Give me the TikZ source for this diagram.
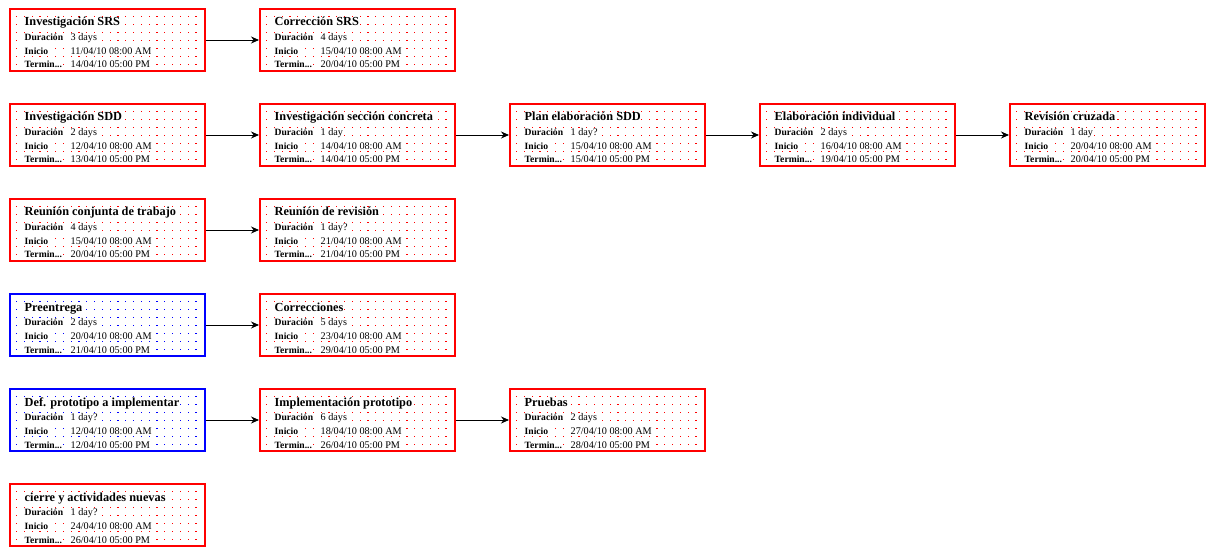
\documentclass[tikz,border=0pt]{standalone}
\usepackage{fontspec}
\setmainfont{Liberation Serif}
\usetikzlibrary{arrows.meta}

% one task box: name, left, top, colour, title, duration, start, end
\newcommand\tarea[8]{%
  \node[caja,draw=#4] (#1) at (#2+98.5,#3+32) {};
  \foreach \i in {0,...,23}
    \foreach \j in {0,...,6}
      \fill[#4] (#2+6.9+7.8*\i,#3+7.9+8*\j) rectangle ++(1.2,1.2);
  \node[titulo] (#1-t) at (#2+15,#3+18) {#5};
  \node[etiqueta] (#1-dl) at (#2+15,#3+32.5) {Duración};
  \node[valor] (#1-d) at (#2+61,#3+32.5) {#6};
  \node[etiqueta] (#1-il) at (#2+15,#3+46.8) {Inicio};
  \node[valor] (#1-i) at (#2+61,#3+46.8) {#7};
  \node[etiqueta] (#1-fl) at (#2+15,#3+60) {Termin...};
  \node[valor] (#1-f) at (#2+61,#3+60) {#8};
}

\begin{document}
\begin{tikzpicture}[x=1pt,y=-1pt,
    caja/.style={line width=2pt,minimum width=195pt,minimum height=62pt,inner sep=0pt},
    titulo/.style={anchor=base west,fill=white,inner sep=0.5pt,font=\fontsize{12.3}{14}\selectfont\bfseries},
    etiqueta/.style={anchor=base west,fill=white,inner sep=0.5pt,font=\fontsize{9.6}{11}\selectfont\bfseries},
    valor/.style={anchor=base west,fill=white,inner sep=0.5pt,font=\fontsize{10.2}{12}\selectfont},
    flecha/.style={-{Stealth[length=8pt,width=7pt]},line width=0.8pt}]
  \useasboundingbox (0,0) rectangle (1216,556);

  % SRS
  \tarea{srsinv}{9}{8}{red}{Investigación SRS}{3 days}{11/04/10 08:00 AM}{14/04/10 05:00 PM}
  \tarea{srscor}{259}{8}{red}{Corrección SRS}{4 days}{15/04/10 08:00 AM}{20/04/10 05:00 PM}

  % SDD
  \tarea{sddinv}{9}{103}{red}{Investigación SDD}{2 days}{12/04/10 08:00 AM}{13/04/10 05:00 PM}
  \tarea{seccion}{259}{103}{red}{Investigación sección concreta}{1 day}{14/04/10 08:00 AM}{14/04/10 05:00 PM}
  \tarea{plan}{509}{103}{red}{Plan elaboración SDD}{1 day?}{15/04/10 08:00 AM}{15/04/10 05:00 PM}
  \tarea{elab}{759}{103}{red}{Elaboración individual}{2 days}{16/04/10 08:00 AM}{19/04/10 05:00 PM}
  \tarea{revcruz}{1009}{103}{red}{Revisión cruzada}{1 day}{20/04/10 08:00 AM}{20/04/10 05:00 PM}

  % reuniones
  \tarea{reunion}{9}{198}{red}{Reunión conjunta de trabajo}{4 days}{15/04/10 08:00 AM}{20/04/10 05:00 PM}
  \tarea{revision}{259}{198}{red}{Reunión de revisión}{1 day?}{21/04/10 08:00 AM}{21/04/10 05:00 PM}

  % entrega
  \tarea{preent}{9}{293}{blue}{Preentrega}{2 days}{20/04/10 08:00 AM}{21/04/10 05:00 PM}
  \tarea{correc}{259}{293}{red}{Correcciones}{5 days}{23/04/10 08:00 AM}{29/04/10 05:00 PM}

  % prototipo
  \tarea{defproto}{9}{388}{blue}{Def. prototipo a implementar}{1 day?}{12/04/10 08:00 AM}{12/04/10 05:00 PM}
  \tarea{implem}{259}{388}{red}{Implementación prototipo}{6 days}{18/04/10 08:00 AM}{26/04/10 05:00 PM}
  \tarea{pruebas}{509}{388}{red}{Pruebas}{2 days}{27/04/10 08:00 AM}{28/04/10 05:00 PM}

  % cierre
  \tarea{cierre}{9}{483}{red}{cierre y actividades nuevas}{1 day?}{24/04/10 08:00 AM}{26/04/10 05:00 PM}

  % dependencias
  \draw[flecha] (srsinv) -- (srscor);
  \draw[flecha] (sddinv) -- (seccion);
  \draw[flecha] (seccion) -- (plan);
  \draw[flecha] (plan) -- (elab);
  \draw[flecha] (elab) -- (revcruz);
  \draw[flecha] (reunion) -- (revision);
  \draw[flecha] (preent) -- (correc);
  \draw[flecha] (defproto) -- (implem);
  \draw[flecha] (implem) -- (pruebas);
\end{tikzpicture}
\end{document}
